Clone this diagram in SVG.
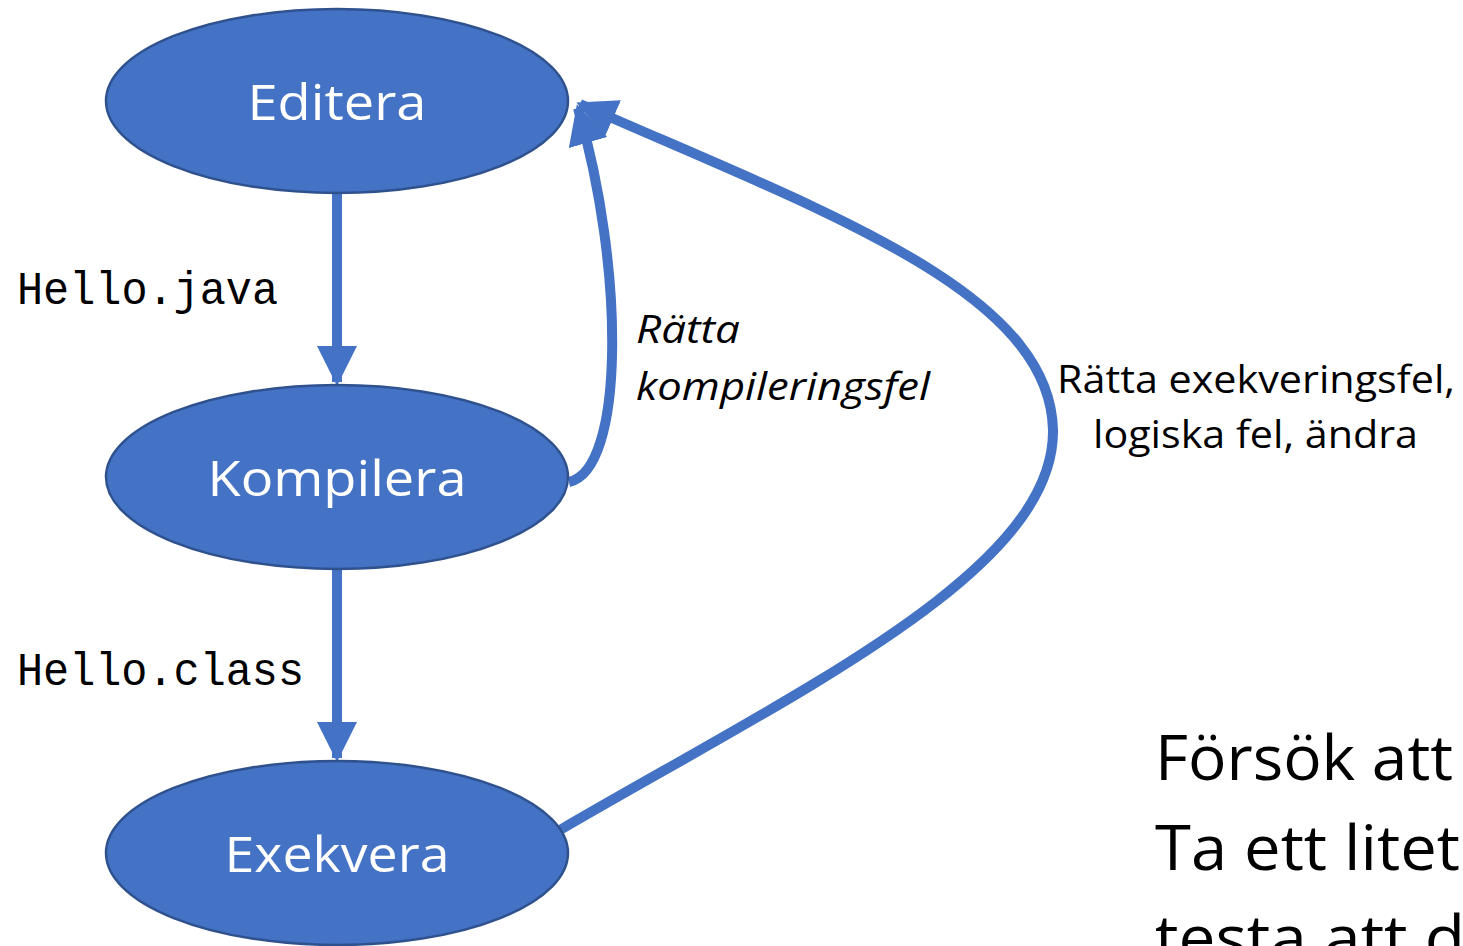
<svg xmlns="http://www.w3.org/2000/svg" width="1463" height="946" viewBox="0 0 1463 946">
<style>
.node{fill:#4472C4;stroke:#2F528F;stroke-width:2.5}
.nl{fill:#fff;font-family:"Open Sans","Noto Sans",sans-serif;font-size:50px;text-anchor:middle}
.edge{fill:none;stroke:#4472C4;stroke-width:10}
.mono{font-family:"Liberation Mono","DejaVu Sans Mono",monospace;font-size:46px;fill:#000}
.lab{font-family:"Open Sans","Noto Sans",sans-serif;font-size:38px;fill:#000}
.big{font-family:"Open Sans","Noto Sans",sans-serif;font-size:62px;fill:#000}
</style>
<defs>
<marker id="ah" viewBox="0 0 10 10" refX="9" refY="5" markerWidth="4" markerHeight="4" orient="auto" markerUnits="strokeWidth">
<path d="M0,0 L10,5 L0,10 Z" fill="#4472C4"/>
</marker>
</defs>
<g id="connectors">
<path class="edge" d="M337,193 L337,382" marker-end="url(#ah)"/>
<path class="edge" d="M337,570 L337,758" marker-end="url(#ah)"/>
<path class="edge" d="M569,482 C625,470 625,270 578,108" marker-end="url(#ah)"/>
<path class="edge" d="M560,830 C800,690 1055,570 1053,430 C1050,290 820,210 580,104" marker-end="url(#ah)"/>
</g>
<g id="node-editera">
<ellipse class="node" cx="337" cy="101" rx="231" ry="92"/>
<text class="nl" x="337" y="120" textLength="179" lengthAdjust="spacingAndGlyphs">Editera</text>
</g>
<g id="node-kompilera">
<ellipse class="node" cx="337" cy="477" rx="231" ry="92"/>
<text class="nl" x="337" y="496" textLength="259" lengthAdjust="spacingAndGlyphs">Kompilera</text>
</g>
<g id="node-exekvera">
<ellipse class="node" cx="337" cy="853" rx="231" ry="92"/>
<text class="nl" x="337" y="872" textLength="225" lengthAdjust="spacingAndGlyphs">Exekvera</text>
</g>
<g id="labels">
<text class="mono" x="17" y="304" textLength="261" lengthAdjust="spacingAndGlyphs">Hello.java</text>
<text class="mono" x="17" y="685" textLength="287" lengthAdjust="spacingAndGlyphs">Hello.class</text>
<text class="lab" x="636" y="343" font-style="italic" textLength="104" lengthAdjust="spacingAndGlyphs">Rätta</text>
<text class="lab" x="636" y="400" font-style="italic" textLength="294" lengthAdjust="spacingAndGlyphs">kompileringsfel</text>
<text class="lab" x="1057" y="393" textLength="398" lengthAdjust="spacingAndGlyphs">Rätta exekveringsfel,</text>
<text class="lab" x="1093" y="448" textLength="325" lengthAdjust="spacingAndGlyphs">logiska fel, ändra</text>
<text class="big" x="1155" y="780" textLength="298" lengthAdjust="spacingAndGlyphs">Försök att</text>
<text class="big" x="1155" y="870" textLength="305" lengthAdjust="spacingAndGlyphs">Ta ett litet</text>
<text class="big" x="1155" y="960" textLength="310" lengthAdjust="spacingAndGlyphs">testa att d</text>
</g>
</svg>
